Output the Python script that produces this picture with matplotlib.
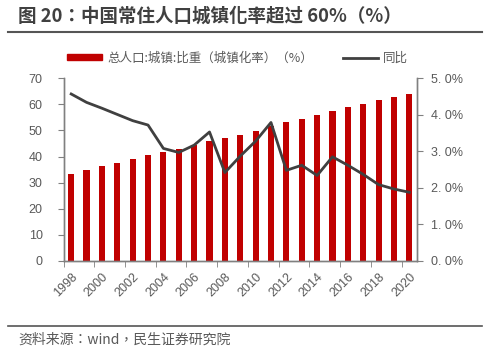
import matplotlib.pyplot as plt
import numpy as np
from matplotlib.patches import Patch
from matplotlib.lines import Line2D

plt.rcParams['font.family'] = ['Noto Sans CJK SC', 'DejaVu Sans']

years = [str(y) for y in range(1998, 2021)]
rate = [33.35, 34.78, 36.22, 37.66, 39.09, 40.53, 41.76, 42.99, 44.34, 45.89, 46.99,
        48.34, 49.95, 51.83, 53.10, 54.49, 55.75, 57.33, 58.84, 60.24, 61.50, 62.71, 63.89]
yoy = [4.57, 4.34, 4.18, 4.01, 3.84, 3.72, 3.08, 2.97, 3.17, 3.53, 2.42,
       2.87, 3.28, 3.79, 2.48, 2.62, 2.34, 2.85, 2.62, 2.37, 2.09, 1.97, 1.88]
bar_label = '总人口:城镇:比重（城镇化率）（%）'
line_label = '同比'

red = '#C00000'
dark = '#404040'
tick_col = '#595959'
spine_col = '#808080'

fig = plt.figure(figsize=(5, 3.59), dpi=100)
ax = fig.add_axes([0.127, 0.273, 0.707, 0.509])
ax2 = ax.twinx()

x = np.arange(len(years))
ax.bar(x, rate, width=0.4, color=red, zorder=2)
ax2.plot(x, yoy, color=dark, lw=2, zorder=3)

ax.set_xlim(-0.5, len(years) - 0.5)
ax.set_ylim(0, 70)
ax.set_yticks(range(0, 71, 10))
ax2.set_ylim(0, 5)
ax2.set_yticks(range(0, 6))
ax2.set_yticklabels(['%d. 0%%' % v for v in range(0, 6)],
                    family=['Liberation Sans', 'DejaVu Sans'])

ax.set_xticks(x[::2])
ax.set_xticklabels(years[::2], rotation=45, ha='right', rotation_mode='anchor',
                   family=['Liberation Sans', 'DejaVu Sans'])
ax.set_xticks(np.arange(-0.5, len(years), 2), minor=True)
ax.tick_params(axis='x', which='major', length=0, pad=7, labelsize=9, colors=tick_col)
ax.tick_params(axis='x', which='minor', length=4, color=spine_col, direction='out')
ax.tick_params(axis='y', length=4, pad=11, color=spine_col, labelsize=9, labelcolor=tick_col)
ax2.tick_params(axis='y', length=4, pad=6, color=spine_col, labelsize=9, labelcolor=tick_col)
for lab in ax.get_yticklabels():
    lab.set_family(['Liberation Sans', 'DejaVu Sans'])

for a in (ax, ax2):
    a.spines['top'].set_visible(False)
    for s in ('left', 'right', 'bottom'):
        a.spines[s].set_color(spine_col)
        a.spines[s].set_linewidth(1)

handles = [Patch(color=red), Line2D([], [], color=dark, lw=2)]
leg = fig.legend(handles, [bar_label, line_label], loc='center left',
                 bbox_to_anchor=(67 / 500, 1 - 58 / 359), ncol=2, frameon=False,
                 fontsize=9, handlelength=2.8, handleheight=0.45, borderpad=0,
                 borderaxespad=0, columnspacing=2.4, handletextpad=0.4)
for t in leg.get_texts():
    t.set_color(tick_col)
    t.set_fontweight('light')

fig.text(0.036, 0.955, '图 20：中国常住人口城镇化率超过 60%（%）', fontsize=13.3,
         fontweight='bold', color='#404040', va='center', ha='left',
         family=['Noto Sans CJK TC', 'DejaVu Sans'])
fig.add_artist(Line2D([0.016, 0.964], [0.91, 0.91], color='#555555', lw=1.5))
fig.add_artist(Line2D([0.016, 0.964], [0.092, 0.092], color='#555555', lw=1.2))
fig.text(0.036, 0.055, '资料来源：wind，民生证券研究院', fontsize=10, color=tick_col,
         va='center', ha='left', family=['Noto Sans CJK TC', 'DejaVu Sans'])

fig.savefig('out.png')
